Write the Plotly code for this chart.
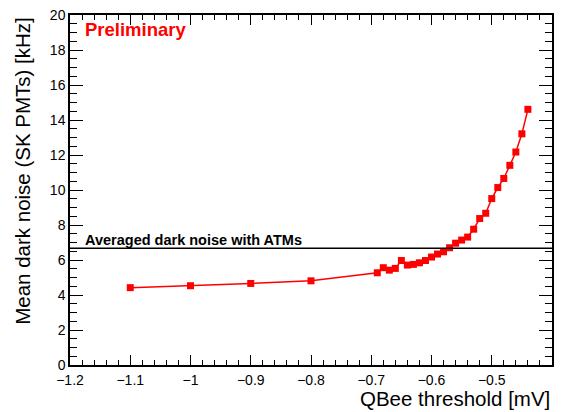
import plotly.graph_objects as go

# QBee discriminator threshold [mV]
threshold = [-1.1, -1.0, -0.9, -0.8,
             -0.69, -0.68, -0.67, -0.66, -0.65, -0.64, -0.63, -0.62, -0.61,
             -0.60, -0.59, -0.58, -0.57, -0.56, -0.55, -0.54, -0.53, -0.52,
             -0.51, -0.50, -0.49, -0.48, -0.47, -0.46, -0.45, -0.44]
# Mean dark noise of SK PMTs [kHz]
dark_noise = [4.42, 4.53, 4.66, 4.81,
              5.27, 5.56, 5.42, 5.52, 5.97, 5.71, 5.75, 5.84, 5.97,
              6.17, 6.34, 6.47, 6.70, 6.96, 7.14, 7.31, 7.76, 8.37,
              8.67, 9.51, 10.14, 10.66, 11.41, 12.17, 13.21, 14.61]
# Reference level measured with ATMs [kHz]
atm_average = 6.67

RED = "#ff0000"
FONT = "Liberation Sans, Arial, Helvetica, sans-serif"

fig = go.Figure()
fig.add_trace(go.Scatter(
    x=threshold, y=dark_noise, mode="lines+markers",
    line=dict(color=RED, width=1.5),
    marker=dict(symbol="square", size=7, color=RED),
    showlegend=False,
))

fig.add_hline(y=atm_average, line=dict(color="black", width=1.6))

fig.add_annotation(x=-1.179, y=7.16, xref="x", yref="y",
                   text="<b>Averaged dark noise with ATMs</b>",
                   showarrow=False, xanchor="left", yanchor="middle",
                   font=dict(family=FONT, size=14.5, color="black"))
fig.add_annotation(x=-1.179, y=19.2, xref="x", yref="y",
                   text="<b>Preliminary</b>",
                   showarrow=False, xanchor="left", yanchor="middle",
                   font=dict(family=FONT, size=18.5, color=RED))

# axis titles, aligned to the far end of each axis
fig.add_annotation(x=1.0, y=-0.095, xref="paper", yref="paper",
                   text="QBee threshold [mV]", showarrow=False,
                   xanchor="right", yanchor="middle",
                   font=dict(family=FONT, size=20.5, color="black"))
fig.add_annotation(x=-0.1, y=1.0, xref="paper", yref="paper",
                   text="Mean dark noise (SK PMTs) [kHz]", showarrow=False,
                   textangle=-90, xanchor="center", yanchor="top",
                   font=dict(family=FONT, size=20.5, color="black"))

axis_common = dict(
    showgrid=False, zeroline=False,
    showline=True, linecolor="black", linewidth=1.5,
    mirror="ticks", ticks="inside", tickcolor="black", tickwidth=1,
    tickfont=dict(family=FONT, size=14, color="black"),
)

fig.update_xaxes(
    range=[-1.2, -0.4], tick0=-1.2, dtick=0.1, ticklen=10,
    ticklabelstandoff=1,
    minor=dict(dtick=0.02, ticks="inside", ticklen=5, tickcolor="black"),
    **axis_common,
)
fig.update_yaxes(
    range=[0, 20], tick0=0, dtick=2, ticklen=13,
    minor=dict(dtick=0.5, ticks="inside", ticklen=7, tickcolor="black"),
    **axis_common,
)

fig.update_layout(
    width=564, height=412,
    margin=dict(l=70, r=12, t=7, b=47),
    plot_bgcolor="white", paper_bgcolor="white",
    font=dict(family=FONT, color="black"),
)

fig.write_html("out.html")
